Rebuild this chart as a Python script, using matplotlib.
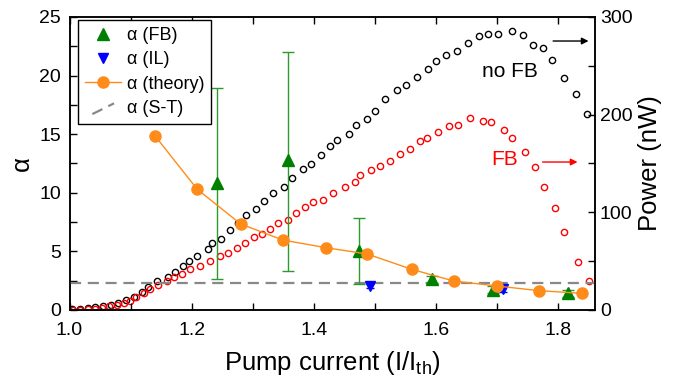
import matplotlib
matplotlib.use("Agg")
import matplotlib.pyplot as plt
from matplotlib.ticker import MultipleLocator, FormatStrFormatter
from matplotlib.legend_handler import HandlerBase
from matplotlib.lines import Line2D

plt.rcParams['font.family'] = ['Liberation Sans', 'DejaVu Sans']
plt.rcParams['mathtext.default'] = 'regular'

# Power without feedback (nW)
x_nofb = [1.0046, 1.0172, 1.0298, 1.0417, 1.0553, 1.0674, 1.0798, 1.0924, 1.1055, 1.1191,
          1.1289, 1.1431, 1.1616, 1.1725, 1.1851, 1.1954, 1.2085, 1.2260, 1.2335, 1.2482,
          1.2625, 1.2751, 1.2891, 1.3050, 1.3181, 1.3333, 1.3508, 1.3643, 1.3814, 1.3954,
          1.4108, 1.4255, 1.4379, 1.4566, 1.4685, 1.4865, 1.5001, 1.5155, 1.5367, 1.5508,
          1.5694, 1.5874, 1.5998, 1.6168, 1.6342, 1.6528, 1.6708, 1.6849, 1.7012, 1.7241,
          1.7428, 1.7580, 1.7755, 1.7902, 1.8098, 1.8294, 1.8468]
p_nofb = [0.7, 1.4, 2.0, 3.1, 4.1, 5.1, 6.8, 9.9, 13.6, 18.8,
          23.9, 29.4, 34.1, 39.2, 45.1, 49.8, 55.6, 62.1, 68.3, 73.0,
          82.2, 89.4, 97.3, 103.4, 111.3, 119.5, 126.3, 134.8, 144.7, 149.5,
          158.7, 167.9, 173.7, 180.5, 189.4, 195.9, 204.1, 216.0, 224.9, 230.7,
          238.3, 247.1, 254.6, 260.8, 265.2, 273.1, 280.2, 282.6, 282.6, 286.0,
          281.9, 271.6, 268.0, 256.3, 237.5, 221.2, 201.0]

# Power with feedback (nW)
x_fb = [1.0062, 1.0172, 1.0298, 1.0417, 1.0527, 1.0646, 1.0772, 1.0886, 1.0989, 1.1092,
        1.1223, 1.1321, 1.1442, 1.1590, 1.1714, 1.1840, 1.1975, 1.2139, 1.2298, 1.2461,
        1.2597, 1.2744, 1.2870, 1.3012, 1.3143, 1.3279, 1.3415, 1.3578, 1.3704, 1.3846,
        1.3982, 1.4141, 1.4304, 1.4505, 1.4669, 1.4751, 1.4942, 1.5089, 1.5241, 1.5405,
        1.5568, 1.5743, 1.5851, 1.6026, 1.6206, 1.6365, 1.6549, 1.6767, 1.6901, 1.7105,
        1.7236, 1.7460, 1.7612, 1.7764, 1.7948, 1.8098, 1.8320, 1.8500]
p_fb = [0.0, 0.3, 1.0, 1.4, 2.4, 3.8, 5.1, 6.8, 9.2, 13.0,
        17.1, 21.5, 25.6, 29.7, 34.1, 36.9, 42.0, 45.4, 50.2, 55.6,
        58.4, 63.5, 68.3, 74.4, 78.1, 82.9, 88.8, 92.2, 99.6, 105.2,
        110.3, 113.0, 119.8, 125.9, 130.7, 137.9, 143.3, 147.4, 152.6, 159.4,
        164.5, 172.7, 175.8, 181.9, 188.4, 189.7, 196.6, 194.0, 192.6, 184.3,
        176.4, 161.5, 146.7, 126.0, 104.1, 79.8, 49.0, 29.2]

# alpha factor data
x_alpha_fb = [1.242, 1.358, 1.474, 1.593, 1.693, 1.815]
alpha_fb = [10.86, 12.8, 5.06, 2.62, 1.71, 1.42]
alpha_fb_err_lo = [8.2, 9.5, 2.86, 0.3, 0.3, 0.3]
alpha_fb_err_hi = [8.1, 9.2, 2.76, 0.3, 0.3, 0.3]

x_alpha_il = [1.491, 1.709]
alpha_il = [2.05, 1.77]
alpha_il_err = [0.2, 0.25]

x_theory = [1.140, 1.209, 1.280, 1.349, 1.419, 1.487, 1.560, 1.629, 1.699, 1.768, 1.838]
alpha_theory = [14.85, 10.30, 7.34, 5.97, 5.32, 4.78, 3.47, 2.47, 2.05, 1.65, 1.42]

x_st = [1.0, 1.86]
alpha_st = [2.33, 2.33]

ST_COLOR = '#888888'


class DiagDashHandler(HandlerBase):
    def create_artists(self, legend, orig_handle, xdescent, ydescent, width, height,
                       fontsize, trans):
        x0 = -xdescent + 0.2 * width
        x1 = -xdescent + 0.8 * width
        y0 = -ydescent - 0.1 * height
        y1 = -ydescent + 0.75 * height
        ln = Line2D([x0, x1], [y0, y1], color=ST_COLOR, lw=1.6, linestyle=(0, (5, 3)))
        ln.set_transform(trans)
        return [ln]


fig = plt.figure(figsize=(6.73, 3.81), dpi=100)
ax = fig.add_axes([0.1033, 0.1864, 0.7808, 0.769])
ax2 = ax.twinx()
ax.set_zorder(ax2.get_zorder() + 1)
ax.patch.set_visible(False)

# power curves
ax2.plot(x_nofb, p_nofb, 'o', ms=4.5, mfc='none', mec='black', mew=1.0)
ax2.plot(x_fb, p_fb, 'o', ms=4.5, mfc='none', mec='red', mew=1.0)

# alpha
l_st, = ax.plot(x_st, alpha_st, color=ST_COLOR, lw=1.6, linestyle=(0, (5, 3)), label=r'α (S-T)')
ax.errorbar(x_alpha_fb, alpha_fb, yerr=[alpha_fb_err_lo, alpha_fb_err_hi], fmt='none',
            ecolor='#2e9a2e', elinewidth=1.0, capsize=4, capthick=1.0, zorder=3)
l_fb, = ax.plot(x_alpha_fb, alpha_fb, '^', ms=8, color='green', mec='green', zorder=4, label=r'α (FB)')
ax.errorbar(x_alpha_il, alpha_il, yerr=alpha_il_err, fmt='none', ecolor='blue',
            elinewidth=1.0, capsize=3, zorder=3)
l_il, = ax.plot(x_alpha_il, alpha_il, 'v', ms=7, color='blue', zorder=4, label=r'α (IL)')
l_th, = ax.plot(x_theory, alpha_theory, '-o', color='#ff8c1a', ms=8, lw=1.0, zorder=5,
                label=r'α (theory)')

ax.set_xlim(1.0, 1.86)
ax.set_ylim(0, 25)
ax2.set_ylim(0, 300)

ax.xaxis.set_major_locator(MultipleLocator(0.2))
ax.xaxis.set_minor_locator(MultipleLocator(0.1))
ax.xaxis.set_major_formatter(FormatStrFormatter('%.1f'))
ax.yaxis.set_major_locator(MultipleLocator(5))
ax.yaxis.set_minor_locator(MultipleLocator(2.5))
ax2.yaxis.set_major_locator(MultipleLocator(100))
ax2.yaxis.set_minor_locator(MultipleLocator(50))

ax.tick_params(axis='x', which='both', direction='in', top=True, bottom=True, labelsize=14,
               length=5, width=1, pad=9)
ax.tick_params(axis='y', which='both', direction='in', left=True, right=False, labelsize=14,
               length=5, width=1, pad=6)
ax2.tick_params(axis='y', which='both', direction='in', right=True, labelsize=14,
                length=5, width=1)
for a in (ax, ax2):
    for s in a.spines.values():
        s.set_linewidth(1.1)

ax.set_xlabel('Pump current (I/I$_{th}$)', fontsize=18.5, labelpad=7)
ax.set_ylabel('α', fontsize=18.5, labelpad=4)
ax2.set_ylabel('Power (nW)', fontsize=18.5, labelpad=4)

leg = ax.legend(handles=[l_fb, l_il, l_th, l_st], loc='upper left',
                bbox_to_anchor=(0.016, 0.99), borderaxespad=0, fontsize=13,
                frameon=True, fancybox=False, edgecolor='black', framealpha=1,
                handlelength=2.0, handletextpad=0.3, labelspacing=0.4, borderpad=0.4,
                handler_map={l_st: DiagDashHandler()})
leg.get_frame().set_linewidth(1.0)

# annotations (in axes fraction coordinates)
ax.text(0.785, 0.815, 'no FB', transform=ax.transAxes, fontsize=15, color='black',
        ha='left', va='center')
ax.annotate('', xy=(0.993, 0.918), xytext=(0.915, 0.918), xycoords='axes fraction',
            arrowprops=dict(arrowstyle='-|>', color='black', lw=1.0, mutation_scale=10))
ax.text(0.803, 0.512, 'FB', transform=ax.transAxes, fontsize=15, color='red',
        ha='left', va='center')
ax.annotate('', xy=(0.972, 0.505), xytext=(0.895, 0.505), xycoords='axes fraction',
            arrowprops=dict(arrowstyle='-|>', color='red', lw=1.0, mutation_scale=10))

fig.savefig('out.png', dpi=100)
